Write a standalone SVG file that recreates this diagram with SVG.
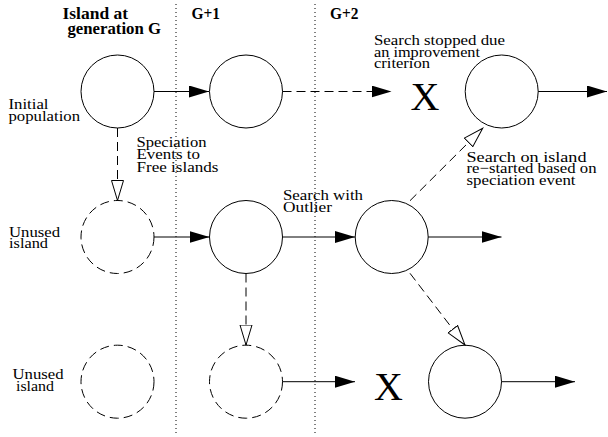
<svg xmlns="http://www.w3.org/2000/svg" width="608" height="437" viewBox="0 0 608 437">
  <style>
    .island { fill: none; stroke: #000; stroke-width: 1; }
    .unused { stroke-dasharray: 9 5; }
    .flow { fill: none; stroke: #000; stroke-width: 1; marker-end: url(#solidHead); }
    .spec { fill: none; stroke: #000; stroke-width: 1; stroke-dasharray: 9 5; marker-end: url(#openHead); }
    .gen { stroke: #000; stroke-width: 1; stroke-dasharray: 1 3; }
    .lbl { font-family: "Liberation Serif", "DejaVu Serif", serif; font-size: 15px; fill: #000; }
    .hdr { font-family: "Liberation Serif", "DejaVu Serif", serif; font-size: 17px; font-weight: bold; fill: #000; }
    .stop { font-family: "Liberation Serif", "DejaVu Serif", serif; font-size: 40px; fill: #000; text-anchor: middle; }
  </style>
  <defs>
    <marker id="solidHead" markerUnits="userSpaceOnUse" markerWidth="22" markerHeight="14" refX="20" refY="6" orient="auto">
      <path d="M0,0 L20,6 L0,12 Z" fill="#000"/>
    </marker>
    <marker id="openHead" markerUnits="userSpaceOnUse" markerWidth="22" markerHeight="14" refX="20.5" refY="7" orient="auto">
      <path d="M0.5,1 L20.5,7 L0.5,13 Z" fill="#fff" stroke="#000" stroke-width="1"/>
    </marker>
  </defs>

  <!-- generation separators -->
  <g id="separators">
    <line class="gen" x1="176" y1="4" x2="176" y2="436"/>
    <line class="gen" x1="315" y1="4" x2="315" y2="436"/>
  </g>

  <!-- column headers -->
  <g id="headers">
    <text class="hdr" x="62.5" y="19" textLength="65.5" lengthAdjust="spacingAndGlyphs">Island at</text>
    <text class="hdr" x="67.5" y="34" textLength="93.5" lengthAdjust="spacingAndGlyphs">generation G</text>
    <text class="hdr" x="191.5" y="18.5" textLength="28.5" lengthAdjust="spacingAndGlyphs">G+1</text>
    <text class="hdr" x="330" y="18.5" textLength="28.5" lengthAdjust="spacingAndGlyphs">G+2</text>
  </g>

  <!-- connectors -->
  <g id="connectors">
    <line class="flow" x1="154" y1="91.5" x2="209" y2="91.5"/>
    <line class="spec" x1="282.5" y1="91.5" x2="391.5" y2="91.5" style="marker-end:url(#solidHead)"/>
    <line class="flow" x1="538.2" y1="91.5" x2="607" y2="91.5"/>
    <line class="flow" x1="154" y1="237" x2="209.5" y2="237"/>
    <line class="flow" x1="282.5" y1="237" x2="355" y2="237"/>
    <line class="flow" x1="428.2" y1="237" x2="501.5" y2="237"/>
    <line class="flow" x1="282.5" y1="381.7" x2="355" y2="381.7"/>
    <line class="flow" x1="501.5" y1="381.7" x2="575" y2="381.7"/>
    <line class="spec" x1="117.5" y1="128" x2="117.5" y2="200.5"/>
    <line class="spec" x1="246" y1="273.5" x2="246" y2="345"/>
    <line class="spec" x1="410" y1="200.7" x2="482.7" y2="128.3"/>
    <line class="spec" x1="410" y1="273.3" x2="465" y2="345"/>
  </g>

  <!-- islands, generation G -->
  <g id="island-g-initial">
    <circle class="island" cx="117.5" cy="91.5" r="36.5"/>
  </g>
  <g id="island-g-unused-1">
    <circle class="island unused" cx="117.5" cy="237" r="36.5"/>
  </g>
  <g id="island-g-unused-2">
    <circle class="island unused" cx="117.5" cy="381.7" r="36.5"/>
  </g>

  <!-- islands, generation G+1 -->
  <g id="island-g1-top">
    <circle class="island" cx="246" cy="91.5" r="36.5"/>
  </g>
  <g id="island-g1-mid">
    <circle class="island" cx="246" cy="237" r="36.5"/>
  </g>
  <g id="island-g1-bottom">
    <circle class="island unused" cx="246" cy="381.7" r="36.5"/>
  </g>

  <!-- islands, generation G+2 and later -->
  <g id="island-g2-mid">
    <circle class="island" cx="391.7" cy="237" r="36.5"/>
  </g>
  <g id="island-restarted">
    <circle class="island" cx="501.7" cy="91.5" r="36.5"/>
  </g>
  <g id="island-new">
    <circle class="island" cx="465" cy="381.7" r="36.5"/>
  </g>

  <!-- stopped searches -->
  <g id="stop-top">
    <text class="stop" x="425" y="110">X</text>
  </g>
  <g id="stop-bottom">
    <text class="stop" x="388.5" y="400">X</text>
  </g>

  <!-- annotations -->
  <g id="labels">
    <text class="lbl" x="8.5" y="108.5" textLength="40" lengthAdjust="spacingAndGlyphs">Initial</text>
    <text class="lbl" x="8.5" y="120.5" textLength="71.5" lengthAdjust="spacingAndGlyphs">population</text>

    <text class="lbl" x="136.5" y="146.5" textLength="70" lengthAdjust="spacingAndGlyphs">Speciation</text>
    <text class="lbl" x="136.5" y="159" textLength="63.5" lengthAdjust="spacingAndGlyphs">Events to</text>
    <text class="lbl" x="136.5" y="171.5" textLength="82" lengthAdjust="spacingAndGlyphs">Free islands</text>

    <text class="lbl" x="374" y="45" textLength="131" lengthAdjust="spacingAndGlyphs">Search stopped due</text>
    <text class="lbl" x="374" y="56.5" textLength="106" lengthAdjust="spacingAndGlyphs">an improvement</text>
    <text class="lbl" x="374" y="67.5" textLength="56" lengthAdjust="spacingAndGlyphs">criterion</text>

    <text class="lbl" x="466.5" y="161.5" textLength="120" lengthAdjust="spacingAndGlyphs">Search on island</text>
    <text class="lbl" x="466.5" y="173" textLength="130" lengthAdjust="spacingAndGlyphs">re−started based on</text>
    <text class="lbl" x="466.5" y="184.5" textLength="109" lengthAdjust="spacingAndGlyphs">speciation event</text>

    <text class="lbl" x="283" y="200" textLength="80" lengthAdjust="spacingAndGlyphs">Search with</text>
    <text class="lbl" x="283" y="212" textLength="49" lengthAdjust="spacingAndGlyphs">Outlier</text>

    <text class="lbl" x="9" y="236.5" textLength="51" lengthAdjust="spacingAndGlyphs">Unused</text>
    <text class="lbl" x="9" y="248" textLength="39" lengthAdjust="spacingAndGlyphs">island</text>

    <text class="lbl" x="12.5" y="379" textLength="51" lengthAdjust="spacingAndGlyphs">Unused</text>
    <text class="lbl" x="16" y="391" textLength="38" lengthAdjust="spacingAndGlyphs">island</text>
  </g>
</svg>
